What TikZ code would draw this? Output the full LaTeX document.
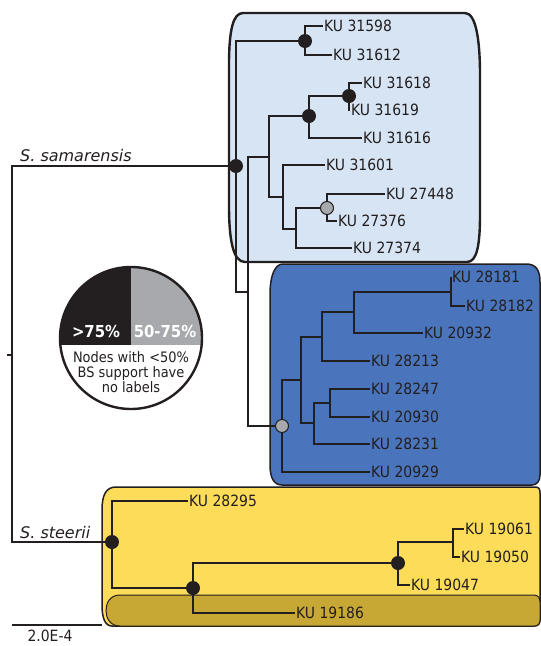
\documentclass[tikz,border=0pt]{standalone}
\usepackage{fontspec}
\setmainfont{DejaVu Sans}[FakeStretch=0.9]
\newfontfamily\spname{DejaVu Sans}
\usepackage{xcolor}
\definecolor{ink}{HTML}{231F20}
\definecolor{samlight}{HTML}{D6E4F4}
\definecolor{samdark}{HTML}{4A75BC}
\definecolor{steeryellow}{HTML}{FDDC5A}
\definecolor{steerolive}{HTML}{C8A835}
\definecolor{midgray}{HTML}{A7A9AC}
\usetikzlibrary{calc}

\begin{document}
\begin{tikzpicture}[
  x=1pt, y=-1pt,
  branch/.style={draw=ink, line width=2.7pt},
  leaf/.style={anchor=west, inner sep=1pt, text=ink, font=\fontsize{15.5}{17}\selectfont},
  species/.style={anchor=base west, inner sep=0pt, text=ink, font=\spname\itshape\fontsize{16}{18}\selectfont},
  bshigh/.style={fill=ink},
  bsmid/.style={fill=midgray, draw=ink, line width=1pt},
  clade/.style={draw=ink, line width=1.5pt},
]
\useasboundingbox (0,0) rectangle (541,646);

% Clade boxes
\filldraw[samlight, draw=ink, line width=2.4pt]
  (243,13) -- (465,13) .. controls (476,13) and (480,40) .. (480,75) -- (480,215)
  .. controls (480,245) and (477,262) .. (467,262) -- (245,262)
  .. controls (233,262) and (229,240) .. (229,205) -- (229,65)
  .. controls (229,30) and (233,13) .. (243,13) -- cycle;
\filldraw[clade, fill=samdark]
  (283,264) -- (526,264) .. controls (536,264) and (540,270) .. (540,282) -- (540,475)
  .. controls (540,481) and (537,485) .. (532,485) -- (282,485)
  .. controls (274,485) and (270,478) .. (270,465) -- (270,295)
  .. controls (270,275) and (275,264) .. (283,264) -- cycle;
\filldraw[clade, fill=steeryellow]
  (116,487) -- (535,487) .. controls (539,487) and (540,489) .. (540,493) -- (540,620)
  .. controls (540,624) and (538,626) .. (534,626) -- (112,626)
  .. controls (105,626) and (102,618) .. (102,605) -- (102,510)
  .. controls (102,495) and (106,487) .. (116,487) -- cycle;
\filldraw[draw=ink, line width=1pt, fill=steerolive]
  (120,595) -- (534,595) .. controls (538,595) and (540,598) .. (540,602) -- (540,620)
  .. controls (540,624) and (538,626) .. (534,626) -- (120,626)
  .. controls (110,626) and (106,618) .. (106,610.5)
  .. controls (106,603) and (110,595) .. (120,595) -- cycle;

% Internal nodes
\coordinate (stem) at (7,355);
\coordinate (root) at (12,355);
\coordinate (sam) at (236,166);
\coordinate (steer) at (112,542);
\coordinate (a1) at (305,41);
\coordinate (c) at (248,292);
\coordinate (d) at (269,157);
\coordinate (e) at (309,116);
\coordinate (e1) at (349,96);
\coordinate (f) at (283,197);
\coordinate (f1) at (296,229);
\coordinate (f2) at (327,208);
\coordinate (g) at (282,426);
\coordinate (g1) at (301,380);
\coordinate (g2) at (322,337);
\coordinate (g3) at (354,312);
\coordinate (g4) at (451,292);
\coordinate (g5) at (314,423);
\coordinate (g6) at (330,403);
\coordinate (h) at (193,588);
\coordinate (h1) at (398,563);
\coordinate (h2) at (453,542);

% Tips
\node[leaf] (k31598) at (323,26) {KU 31598};
\node[leaf] (k31612) at (332,55) {KU 31612};
\node[leaf] (k31618) at (362,83) {KU 31618};
\node[leaf] (k31619) at (350,110) {KU 31619};
\node[leaf] (k31616) at (362,138) {KU 31616};
\node[leaf] (k31601) at (325,165) {KU 31601};
\node[leaf] (k27448) at (385,194) {KU 27448};
\node[leaf] (k27376) at (337,221) {KU 27376};
\node[leaf] (k27374) at (352,248) {KU 27374};
\node[leaf] (k28181) at (451,277) {KU 28181};
\node[leaf] (k28182) at (465,306) {KU 28182};
\node[leaf] (k20932) at (423,333) {KU 20932};
\node[leaf] (k28213) at (370,361) {KU 28213};
\node[leaf] (k28247) at (370,389) {KU 28247};
\node[leaf] (k20930) at (370,417) {KU 20930};
\node[leaf] (k28231) at (370,444) {KU 28231};
\node[leaf] (k20929) at (370,472) {KU 20929};
\node[leaf] (k28295) at (188,501) {KU 28295};
\node[leaf] (k19061) at (464,529) {KU 19061};
\node[leaf] (k19050) at (460,557) {KU 19050};
\node[leaf] (k19047) at (410,585) {KU 19047};
\node[leaf] (k19186) at (295,613) {KU 19186};

% Branches
\draw[branch] (stem) -- (root) (root) |- (sam) (root) |- (steer);
\draw[branch] (sam) |- (a1) (sam) |- (c);
\draw[branch] (a1) |- (k31598.west) (a1) |- (k31612.west);
\draw[branch] (c) |- (d) (c) |- (g);
\draw[branch] (d) |- (e) (d) |- (f);
\draw[branch] (e) |- (e1) (e) |- (k31616.west);
\draw[branch] (e1) |- (k31618.west) (e1) |- (k31619.west);
\draw[branch] (f) |- (k31601.west) (f) |- (f1);
\draw[branch] (f1) |- (f2) (f1) |- (k27374.west);
\draw[branch] (f2) |- (k27448.west) (f2) |- (k27376.west);
\draw[branch] (g) |- (g1) (g) |- (k20929.west);
\draw[branch] (g1) |- (g2) (g1) |- (g5);
\draw[branch] (g2) |- (g3) (g2) |- (k28213.west);
\draw[branch] (g3) |- (g4) (g3) |- (k20932.west);
\draw[branch] (g4) |- (k28181.west) (g4) |- (k28182.west);
\draw[branch] (g5) |- (g6) (g5) |- (k28231.west);
\draw[branch] (g6) |- (k28247.west) (g6) |- (k20930.west);
\draw[branch] (steer) |- (k28295.west) (steer) |- (h);
\draw[branch] (h) |- (h1) (h) |- (k19186.west);
\draw[branch] (h1) |- (h2) (h1) |- (k19047.west);
\draw[branch] (h2) |- (k19061.west) (h2) |- (k19050.west);

% Support values
\fill[bshigh] (sam) circle (7pt);
\fill[bshigh] (a1) circle (7pt);
\fill[bshigh] (e) circle (7pt);
\fill[bshigh] (e1) circle (7pt);
\fill[bshigh] (steer) circle (7pt);
\fill[bshigh] (h) circle (7pt);
\fill[bshigh] (h1) circle (7pt);
\filldraw[bsmid] (f2) circle (6.5pt);
\filldraw[bsmid] (g) circle (6.5pt);

% Species names
\node[species] (samname) at (20,161) {S. samarensis};
\node[species] (steername) at (20,538) {S. steerii};

% Legend
\coordinate (key) at (131,338);
\fill[white] (key) circle (71pt);
\begin{scope}
  \clip (key) circle (71pt);
  \fill[ink] (55,260) rectangle (131,345);
  \fill[midgray] (131,260) rectangle (210,345);
\end{scope}
\draw[ink, line width=2.4pt] (key) circle (71pt);
\node[text=white, font=\bfseries\fontsize{16.5}{18}\selectfont] (hi) at (96,331) {>75\%};
\node[text=white, font=\bfseries\fontsize{16.5}{18}\selectfont] (mid) at (165,331) {50-75\%};
\node[text=ink, align=center, font=\fontsize{14.4}{15.3}\selectfont] (keytext) at (131,372)
  {Nodes with <50\%\\BS support have\\no labels};

% Scale bar
\coordinate (sb1) at (12,625);
\coordinate (sb2) at (102,625);
\draw[ink, line width=1.6pt] (sb1) -- (sb2);
\node[text=ink, font=\fontsize{15.5}{17}\selectfont] (sblabel) at (50,636) {2.0E-4};

\end{tikzpicture}
\end{document}
